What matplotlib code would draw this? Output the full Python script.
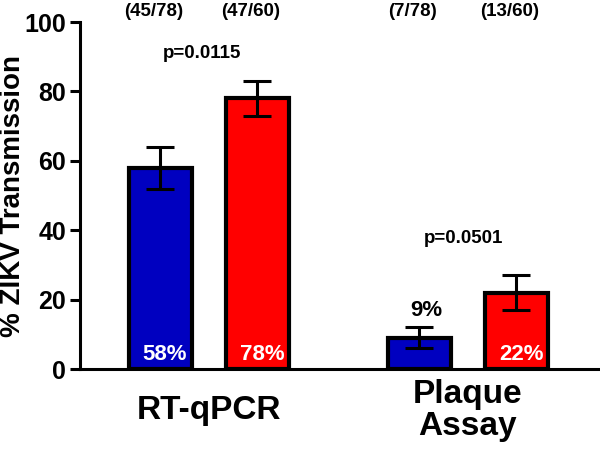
#!/usr/bin/env python3

# Bar chart of ZIKV transmission rates, RT-qPCR vs plaque assay.

import matplotlib
matplotlib.use('Agg')
import matplotlib.pyplot as plt

plt.rcParams['font.family'] = ['Liberation Sans', 'DejaVu Sans']
plt.rcParams['font.weight'] = 'bold'

groups = ['RT-qPCR', 'Plaque\nAssay']
values = [58, 78, 9, 22]
errors = [6, 5, 3, 5]
counts = ['(45/78)', '(47/60)', '(7/78)', '(13/60)']
pct_labels = ['58%', '78%', '9%', '22%']
pvalues = ['p=0.0115', 'p=0.0501']
colors = ['#0000c0', '#ff0000', '#0000c0', '#ff0000']

xpos = [0, 1, 2.67, 3.67]
group_pos = [0.5, 3.17]

fig = plt.figure(figsize=(6, 4.49), dpi=100)
ax = fig.add_axes([0.1333, 0.178, 0.865, 0.773])

ax.bar(xpos, values, width=0.65, color=colors, edgecolor='black', linewidth=3, zorder=2)
ax.errorbar(xpos, values, yerr=errors, fmt='none', ecolor='black', elinewidth=2.2,
            capsize=10, capthick=2.2, zorder=3)

# counts above the plot
for x, c in zip(xpos, counts):
    ax.text(x - 0.07, 103, c, ha='center', va='center', fontsize=13.5, fontweight='bold', clip_on=False)

# percentage labels: white inside bar, black above the small one
for x, v, lab in zip(xpos, values, pct_labels):
    if v < 15:
        ax.text(x + 0.07, 17, lab, ha='center', va='center', fontsize=16, color='black')
    else:
        ax.text(x + 0.05, 4.2, lab, ha='center', va='center', fontsize=16, color='white', zorder=4)

ax.text(0.43, 91, pvalues[0], ha='center', va='center', fontsize=13.5)
ax.text(3.13, 37.7, pvalues[1], ha='center', va='center', fontsize=13.5)

ax.set_xlim(-0.825, 4.52)
ax.set_ylim(0, 100)
ax.set_yticks([0, 20, 40, 60, 80, 100])
ax.set_xticks(group_pos)
ax.set_xticklabels(groups, fontsize=24, va='center', linespacing=1.05)
ax.tick_params(axis='x', length=0, pad=30)
ax.tick_params(axis='y', length=7, width=2.2, pad=3, labelsize=18)
ax.set_ylabel('% ZIKV Transmission', fontsize=20, fontweight='bold')
ax.yaxis.set_label_coords(-0.104, 0.5)

ax.spines['top'].set_visible(False)
ax.spines['right'].set_visible(False)
ax.spines['left'].set_linewidth(2.2)
ax.spines['bottom'].set_linewidth(2.2)

plt.savefig('out.png', dpi=100)
plt.close()
